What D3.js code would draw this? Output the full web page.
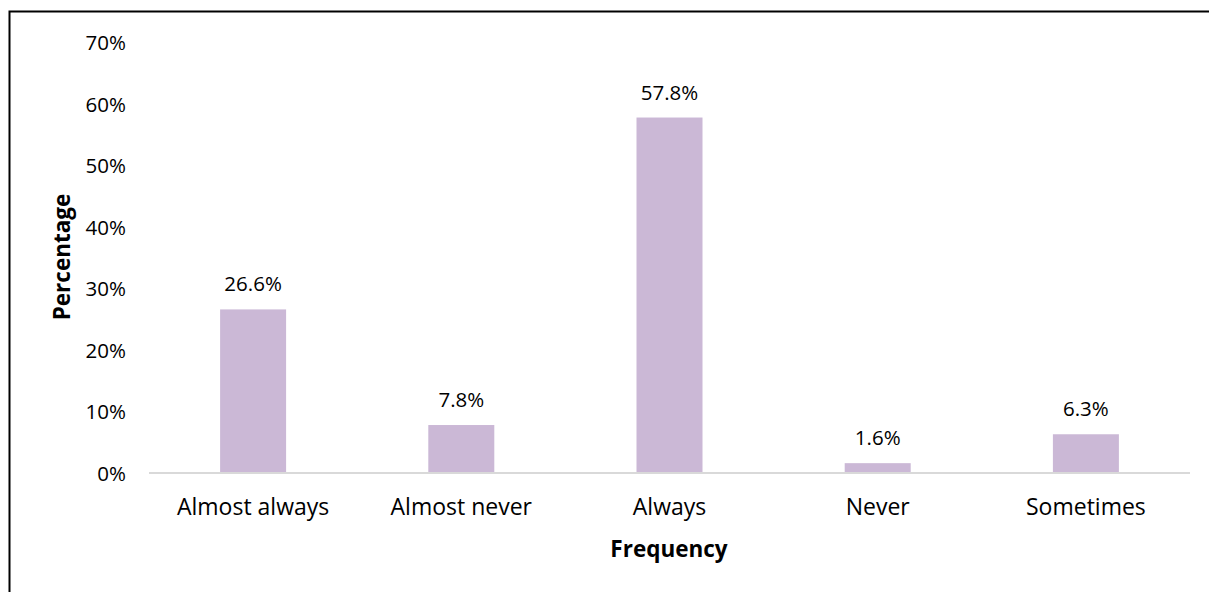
<!DOCTYPE html>
<html>
<head>
<meta charset="utf-8">
<script src="https://cdn.jsdelivr.net/npm/d3@7"></script>
<style>
  html, body { margin: 0; padding: 0; background: #fff; }
  svg { display: block; }
  text { font-family: "Open Sans", sans-serif; fill: #000; }
</style>
</head>
<body>
<svg id="chart" width="1209" height="592"></svg>
<script>
// Response frequency (share of respondents)
const categories = ["Almost always", "Almost never", "Always", "Never", "Sometimes"];
const percentages = [26.6, 7.8, 57.8, 1.6, 6.3];
const yTicks = [0, 10, 20, 30, 40, 50, 60, 70];

const svg = d3.select("#chart");
const W = 1209, H = 592;
const NUM_FS = 20.5;   // tick and value labels
const CAT_FS = 23;     // category labels
const TITLE_FS = 22.5; // axis titles

// outer chart frame (runs off the right and bottom edges)
svg.append("rect")
  .attr("x", 9.5).attr("y", 11.5)
  .attr("width", W + 10).attr("height", H + 10)
  .attr("fill", "#fff").attr("stroke", "#000").attr("stroke-width", 2);

const plot = { left: 149, right: 1190, top: 42.5, bottom: 473 };

const x = d3.scaleBand()
  .domain(categories)
  .range([plot.left, plot.right])
  .paddingInner(0.683)
  .paddingOuter(0.3415);

const y = d3.scaleLinear().domain([0, 70]).range([plot.bottom, plot.top]);

// y axis labels (no line, no ticks)
const yAxis = d3.axisLeft(y)
  .tickValues(yTicks)
  .tickFormat(d => d + "%")
  .tickSize(0)
  .tickPadding(23);
const gy = svg.append("g").attr("transform", `translate(${plot.left},0)`).call(yAxis);
gy.select(".domain").remove();
gy.selectAll("text").attr("font-size", NUM_FS).attr("dy", "0.35em").style("font-family", null);

// bars
svg.append("g").selectAll("rect")
  .data(categories)
  .join("rect")
  .attr("x", d => x(d))
  .attr("width", x.bandwidth())
  .attr("y", (d, i) => y(percentages[i]))
  .attr("height", (d, i) => y(0) - y(percentages[i]))
  .attr("fill", "#cbb8d6");

// category axis
const xAxis = d3.axisBottom(x).tickSize(0);
const gx = svg.append("g").attr("transform", `translate(0,${plot.bottom})`).call(xAxis);
gx.select(".domain").attr("stroke", "#d9d9d9").attr("stroke-width", 2)
  .attr("d", `M${plot.left},0H${plot.right}`);
gx.selectAll("text").attr("font-size", CAT_FS).attr("y", 42).attr("dy", 0).style("font-family", null);

// value labels
svg.append("g").selectAll("text")
  .data(categories)
  .join("text")
  .attr("x", d => x(d) + x.bandwidth() / 2)
  .attr("y", (d, i) => y(percentages[i]) - 18)
  .attr("text-anchor", "middle")
  .attr("font-size", NUM_FS)
  .text((d, i) => percentages[i].toFixed(1) + "%");

// axis titles
svg.append("text")
  .attr("x", 669)
  .attr("y", 557)
  .attr("text-anchor", "middle")
  .attr("font-size", TITLE_FS)
  .attr("font-weight", "bold")
  .text("Frequency");

svg.append("text")
  .attr("transform", `translate(70,257) rotate(-90)`)
  .attr("text-anchor", "middle")
  .attr("font-size", TITLE_FS)
  .attr("font-weight", "bold")
  .text("Percentage");
</script>
</body>
</html>
